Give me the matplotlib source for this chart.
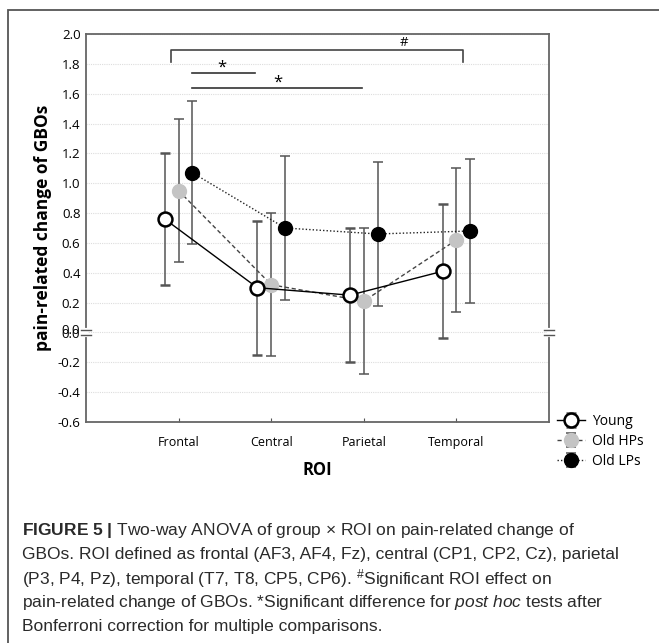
import numpy as np
import matplotlib.pyplot as plt
from matplotlib.patches import Rectangle

# data
rois = ['Frontal', 'Central', 'Parietal', 'Temporal']
young_mean = [0.76, 0.30, 0.25, 0.41]
young_err = [0.44, 0.45, 0.45, 0.45]
hps_mean = [0.95, 0.32, 0.21, 0.62]
hps_err = [0.48, 0.48, 0.49, 0.48]
lps_mean = [1.07, 0.70, 0.66, 0.68]
lps_err = [0.48, 0.48, 0.48, 0.48]
yticks = [-0.6, -0.4, -0.2, 0.2, 0.4, 0.6, 0.8, 1.0, 1.2, 1.4, 1.6, 1.8, 2.0]

caption = [
    r"$\bf{FIGURE\ 5\ |}$ Two-way ANOVA of group $\times$ ROI on pain-related change of",
    "GBOs. ROI defined as frontal (AF3, AF4, Fz), central (CP1, CP2, Cz), parietal",
    r"(P3, P4, Pz), temporal (T7, T8, CP5, CP6). $^{\#}$Significant ROI effect on",
    r"pain-related change of GBOs. *Significant difference for $\it{post\ hoc}$ tests after",
    "Bonferroni correction for multiple comparisons.",
]

W, H = 659, 643
plt.rcParams['font.family'] = ['Open Sans', 'DejaVu Sans']
plt.rcParams['mathtext.fontset'] = 'custom'
plt.rcParams['mathtext.rm'] = 'Liberation Sans'
plt.rcParams['mathtext.bf'] = 'Liberation Sans:bold'
plt.rcParams['mathtext.it'] = 'Liberation Sans:italic'

fig = plt.figure(figsize=(W / 100, H / 100), dpi=100)

# outer frame of the figure panel
frame = Rectangle((8 / W, -0.1), 1.2, 1 - 10 / H + 0.1, transform=fig.transFigure,
                  fill=False, ec='#555555', lw=1.3)
fig.patches.append(frame)

axw = 549 - 86
ax = fig.add_axes([86 / W, (H - 422) / H, axw / W, (422 - 34) / H])
ax.set_xlim(0, 5)
ax.set_ylim(-0.6, 2.0)

x = np.arange(1, len(rois) + 1)
off = 0.15
err_kw = dict(ecolor='#555555', elinewidth=1.1, capsize=3.5, capthick=1.1)

ax.errorbar(x - off, young_mean, yerr=young_err, color='black', ls='-', lw=1,
            marker='o', ms=10, mfc='white', mec='black', mew=1.8,
            label='Young', zorder=4, **err_kw)
ax.errorbar(x, hps_mean, yerr=hps_err, color='#444444', ls=(0, (3, 2)), lw=1,
            marker='o', ms=10, mfc='#c4c4c4', mec='#c4c4c4',
            label='Old HPs', zorder=3, **err_kw)
ax.errorbar(x + off, lps_mean, yerr=lps_err, color='#222222', ls=(0, (1, 1.5)), lw=1,
            marker='o', ms=10, mfc='black', mec='black',
            label='Old LPs', zorder=3, **err_kw)

ax.set_xticks(x)
ax.set_xticklabels(rois, fontsize=9)
ax.set_yticks(yticks)
ax.set_yticklabels([f'{v:.1f}' for v in yticks], fontsize=9.5)
ax.tick_params(axis='x', direction='in', length=3, color='#555555', pad=10)
ax.tick_params(axis='y', length=0, pad=4)
for s in ax.spines.values():
    s.set_color('#666666')
    s.set_linewidth(1.3)

for v in yticks + [0.0]:
    ax.axhline(v, color='#dddddd', lw=0.8, ls=(0, (1, 1)), zorder=0)

# broken axis at zero: two labels and small break marks
dy = 0.014
for yy in (dy, -dy):
    ax.text(-6 / axw, yy, '0.0', ha='right', va='center', fontsize=9.5,
            transform=ax.get_yaxis_transform())
for xs in (0, 5):
    ax.plot([xs, xs], [-dy, dy], color='white', lw=3, zorder=6, clip_on=False)
    for yy in (-dy, dy):
        ax.plot([xs - 0.05, xs + 0.05], [yy, yy], color='#555555', lw=1,
                zorder=7, clip_on=False)

ax.set_ylabel('pain-related change of GBOs', fontsize=12.5, fontweight='bold', labelpad=4)
ax.set_xlabel('ROI', fontsize=12, fontweight='bold', labelpad=9)

# significance brackets
ax.plot([0.92, 0.92, 4.07, 4.07], [1.81, 1.89, 1.89, 1.81], color='#444444', lw=1.2)
ax.text(3.43, 1.94, '#', ha='center', va='center', fontsize=9.5)
ax.plot([1.15, 1.83], [1.74, 1.74], color='#333333', lw=1.2)
ax.text(1.47, 1.775, '*', ha='center', va='center', fontsize=12)
ax.plot([1.15, 2.98], [1.64, 1.64], color='#333333', lw=1.2)
ax.text(2.07, 1.675, '*', ha='center', va='center', fontsize=12)

leg = ax.legend(loc='upper left', bbox_to_anchor=(1.005, 0.035), frameon=False,
                fontsize=10, handlelength=2.0, handletextpad=0.5, labelspacing=0.35,
                borderaxespad=0)

y0 = 1 - 530 / H
for i, line in enumerate(caption):
    fig.text(22 / W, y0 - i * 24.2 / H, line, fontsize=12.5, va='center', ha='left',
             family=['Liberation Sans', 'DejaVu Sans'], color='#2a2a2a')

fig.savefig('out.png', dpi=100)
